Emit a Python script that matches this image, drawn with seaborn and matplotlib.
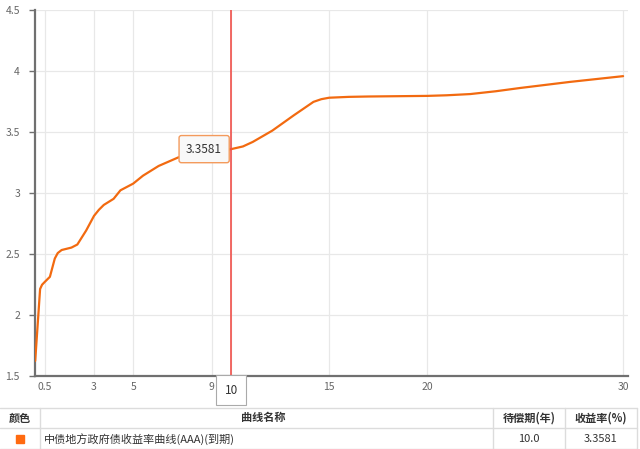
import matplotlib
matplotlib.use("Agg")
import matplotlib.pyplot as plt
import seaborn as sns
import pandas as pd
from matplotlib.patches import Rectangle
from matplotlib.lines import Line2D

# ---- data ----
term = [0.0, 0.25, 0.35, 0.5, 0.75, 0.9, 1.0, 1.15, 1.35, 1.85, 2.15, 2.6, 3.0, 3.25, 3.5, 4.0, 4.35,
        5.0, 5.5, 6.3, 7.3, 8.0, 9.0, 10.0, 10.6, 11.1, 12.1, 13.2, 14.2, 14.6, 15.0,
        16.0, 17.0, 20.0, 21.0, 22.2, 23.5, 24.75, 27.3, 30.0]
yld = [1.62, 2.21, 2.245, 2.27, 2.31, 2.40, 2.46, 2.505, 2.53, 2.55, 2.575, 2.69, 2.81, 2.86, 2.90, 2.95, 3.02,
       3.075, 3.14, 3.22, 3.29, 3.315, 3.34, 3.3581, 3.38, 3.417, 3.51, 3.636, 3.746, 3.768, 3.78,
       3.787, 3.79, 3.795, 3.80, 3.81, 3.833, 3.86, 3.91, 3.957]
x_ticks = [0.5, 3, 5, 9, 10, 15, 20, 30]
x_tick_labels = ["0.5", "3", "5", "9", "", "15", "20", "30"]
y_ticks = [1.5, 2, 2.5, 3, 3.5, 4, 4.5]
y_tick_labels = ["1.5", "2", "2.5", "3", "3.5", "4", "4.5"]
sel_term = 10.0
sel_yield = 3.3581
curve_name = "中债地方政府债收益率曲线(AAA)(到期)"
table_headers = ["颜色", "曲线名称", "待偿期(年)", "收益率(%)"]

sns.set_theme(style="white")
plt.rcParams["font.family"] = ["Noto Sans CJK SC", "DejaVu Sans"]

W, H = 640, 449
fig = plt.figure(figsize=(W / 100, H / 100), dpi=100)
ax = fig.add_axes([35.2 / W, (H - 375.5) / H, (628 - 35.2) / W, (375.5 - 10) / H])

orange = "#f26a10"
df = pd.DataFrame({"term": term, "yield": yld})
sns.lineplot(data=df, x="term", y="yield", ax=ax, color=orange, linewidth=1.6, zorder=3)

ax.set_xlim(0, 30.25)
ax.set_ylim(1.5, 4.5)
ax.set_xticks(x_ticks)
ax.set_xticklabels(x_tick_labels)
ax.set_yticks(y_ticks)
ax.set_yticklabels(y_tick_labels)
ax.set_xlabel("")
ax.set_ylabel("")

ax.grid(True, color="#e8e8e8", linewidth=0.9)
ax.set_axisbelow(True)
for s in ["top", "right"]:
    ax.spines[s].set_visible(False)
for s in ["left", "bottom"]:
    ax.spines[s].set_color("#707070")
    ax.spines[s].set_linewidth(1.6)

ax.tick_params(axis="y", left=True, length=4, width=1, color="#707070",
               labelsize=7.5, labelcolor="#666666", pad=7)
ax.tick_params(axis="x", bottom=False, length=0, labelsize=7.5, labelcolor="#666666", pad=5)

# selection line
ax.axvline(sel_term, color="#f0504a", linewidth=1.2, zorder=4)

# value tooltip
ax.annotate(f"{sel_yield:.4f}", xy=(sel_term, sel_yield), xytext=(-6.5, 0),
            textcoords="offset points", ha="right", va="center",
            fontsize=8.5, color="#333333", zorder=6,
            bbox=dict(boxstyle="round,pad=0.6,rounding_size=0.2", fc="#f8f8f8",
                      ec="#f39a5c", lw=1))

# x label tooltip
ax.annotate(f"{sel_term:g}", xy=(sel_term, 1.5), xytext=(0, -10.5),
            textcoords="offset points", ha="center", va="center",
            fontsize=8.5, color="#333333", annotation_clip=False, zorder=6,
            bbox=dict(boxstyle="square,pad=0.7", fc="white", ec="#aaaaaa", lw=0.8))

# ---- table ----
def fx(px):
    return px / W

def fy(py):
    return 1 - py / H

line_c = "#dcdcdc"
for py in [408, 428, 448.5]:
    fig.add_artist(Line2D([0, fx(637)], [fy(py), fy(py)], color=line_c, lw=1))
for px in [40, 493, 565, 637]:
    fig.add_artist(Line2D([fx(px), fx(px)], [fy(408), fy(449)], color=line_c, lw=1))

hx = [20, 263, 529, 601]
for x, t in zip(hx, table_headers):
    fig.text(fx(x), fy(418), t, ha="center", va="center", fontsize=8,
             fontweight="bold", color="#333333")

fig.add_artist(Rectangle((fx(16), fy(443)), 8 / W, 8 / H, color="#ff6a10",
                         transform=fig.transFigure))
fig.text(fx(44), fy(439), curve_name, ha="left", va="center", fontsize=8, color="#333333")
fig.text(fx(529), fy(439), f"{sel_term:.1f}", ha="center", va="center", fontsize=8, color="#333333")
fig.text(fx(601), fy(439), f"{sel_yield:.4f}", ha="center", va="center", fontsize=8, color="#333333")

fig.savefig("out.png", dpi=100)
